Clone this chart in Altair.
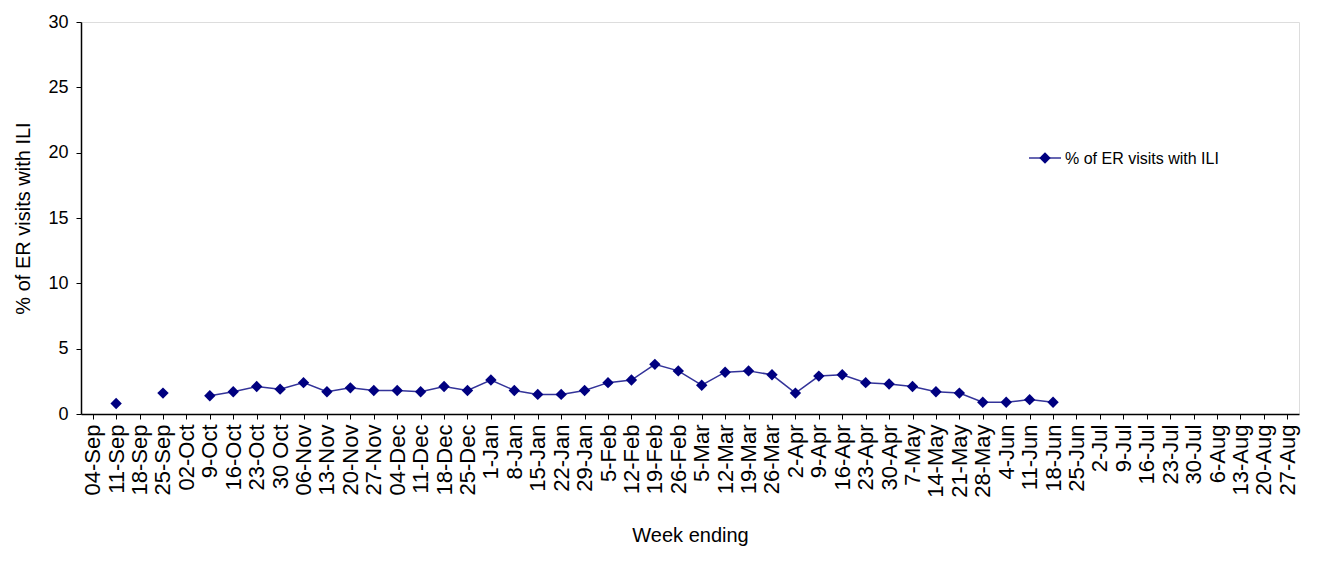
import altair as alt
import pandas as pd

weeks = ["04-Sep","11-Sep","18-Sep","25-Sep","02-Oct","9-Oct","16-Oct","23-Oct","30 Oct","06-Nov",
         "13-Nov","20-Nov","27-Nov","04-Dec","11-Dec","18-Dec","25-Dec","1-Jan","8-Jan","15-Jan",
         "22-Jan","29-Jan","5-Feb","12-Feb","19-Feb","26-Feb","5-Mar","12-Mar","19-Mar","26-Mar",
         "2-Apr","9-Apr","16-Apr","23-Apr","30-Apr","7-May","14-May","21-May","28-May","4-Jun",
         "11-Jun","18-Jun","25-Jun","2-Jul","9-Jul","16-Jul","23-Jul","30-Jul","6-Aug","13-Aug",
         "20-Aug","27-Aug"]
values = [None,0.8,None,1.6,None,1.4,1.7,2.1,1.9,2.4,
          1.7,2.0,1.8,1.8,1.7,2.1,1.8,2.6,1.8,1.5,
          1.5,1.8,2.4,2.6,3.8,3.3,2.2,3.2,3.3,3.0,
          1.6,2.9,3.0,2.4,2.3,2.1,1.7,1.6,0.9,0.9,
          1.1,0.9] + [None]*10
series_name = "% of ER visits with ILI"

df = pd.DataFrame({"week": weeks, "value": values, "order": range(len(weeks))})

FONT = "Liberation Sans"
x = alt.X("week:N", sort=weeks, title="Week ending",
          scale=alt.Scale(paddingInner=0, paddingOuter=0.5),
          axis=alt.Axis(labelAngle=-90, labelFontSize=22, titleFontSize=20, titleFontWeight="normal",
                        labelFont=FONT, titleFont=FONT, labelColor="black", titleColor="black",
                        domainColor="black", tickColor="black", labelPadding=5, labelLimit=200,
                        titlePadding=28, domainWidth=1.5))
y = alt.Y("value:Q", title="% of ER visits with ILI",
          scale=alt.Scale(domain=[0, 30]),
          axis=alt.Axis(values=[0,5,10,15,20,25,30], grid=False, labelFontSize=18, titleFontSize=20,
                        titleFontWeight="normal", labelFont=FONT, titleFont=FONT, labelColor="black",
                        titleColor="black", domainColor="black", tickColor="black", labelPadding=8,
                        titlePadding=14, domainWidth=1.5))

line = alt.Chart(df).mark_line(color="#333399", strokeWidth=1.5).encode(x=x, y=y, order="order:Q")
pts = alt.Chart(df).transform_filter("datum.value != null").mark_point(
    shape="diamond", filled=True, color="#000080", size=130, opacity=1).encode(x=x, y=y)

leg = pd.DataFrame({"label": [series_name]})
leg_line = alt.Chart(leg).mark_rule(color="#333399", strokeWidth=1.5).encode(
    x=alt.value(948), x2=alt.value(980), y=alt.value(136))
leg_pt = alt.Chart(leg).mark_point(shape="diamond", filled=True, color="#000080", size=130, opacity=1).encode(
    x=alt.value(964), y=alt.value(136))
leg_txt = alt.Chart(leg).mark_text(align="left", baseline="middle", font=FONT, fontSize=16, color="black").encode(
    x=alt.value(984), y=alt.value(137), text="label:N")

chart = alt.layer(line, pts, leg_line, leg_pt, leg_txt).properties(width=1218, height=392).configure_view(
    stroke=None).configure(background="white")
chart.save("out.html", embed_options={"renderer": "svg", "actions": False})
